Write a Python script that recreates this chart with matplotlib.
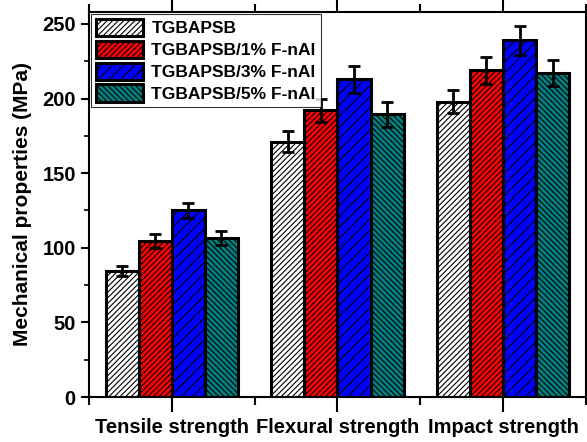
import numpy as np
import matplotlib.pyplot as plt
from matplotlib.ticker import MultipleLocator

plt.rcParams['font.family'] = ['Liberation Sans', 'DejaVu Sans']
plt.rcParams['font.weight'] = 'bold'
plt.rcParams['hatch.linewidth'] = 0.8

categories = ["Tensile strength", "Flexural strength", "Impact strength"]
samples = ["TGBAPSB", "TGBAPSB/1% F-nAl", "TGBAPSB/3% F-nAl", "TGBAPSB/5% F-nAl"]

neat = [84.5, 171, 198]
nal_1 = [104.5, 192, 219]
nal_3 = [125, 213, 239]
nal_5 = [106.5, 189.5, 217]

err_neat = [3.5, 7, 8]
err_1 = [4.5, 7.5, 9]
err_3 = [5, 9, 9.5]
err_5 = [4.5, 8.5, 8.5]

values = [neat, nal_1, nal_3, nal_5]
errors = [err_neat, err_1, err_3, err_5]
colors = ["white", "#ff0000", "#0000ff", "#008080"]
hatches = ["//////", "//////", "///", "\\\\\\\\\\\\"]

fig = plt.figure(figsize=(5.87, 4.42), dpi=100)
ax = fig.add_axes([0.1516, 0.1018, 0.8464, 0.8711])

x = np.arange(1, len(categories) + 1)
w = 0.2
for i in range(len(samples)):
    pos = x + (i - 1.5) * w
    ax.bar(pos, values[i], w, color=colors[i], edgecolor="black",
           linewidth=2.2, hatch=hatches[i], label=samples[i], zorder=2)
    ax.errorbar(pos, values[i], yerr=errors[i], fmt="none", ecolor="black",
                elinewidth=2, capsize=4.5, capthick=2, zorder=3)

ax.set_xlim(0.5, 3.5)
ax.set_ylim(0, 258)
ax.set_xticks(x)
ax.set_xticklabels(categories, fontsize=14.5, fontweight="bold")
ax.set_xticks([0.5, 1.5, 2.5, 3.5], minor=True)
ax.yaxis.set_major_locator(MultipleLocator(50))
ax.yaxis.set_minor_locator(MultipleLocator(25))
ax.set_ylabel("Mechanical properties (MPa)", fontsize=15, fontweight="bold",
              labelpad=7)

ax.tick_params(axis="x", which="major", length=11, width=1.5, direction="out",
               top=True, labelsize=14.5, pad=4)
ax.tick_params(axis="x", which="minor", length=6, width=1.5, direction="out", top=True)
ax.tick_params(axis="y", which="major", length=6, width=1.5, labelsize=14.5)
ax.tick_params(axis="y", which="minor", length=3.5, width=1.2)
for lbl in ax.get_yticklabels():
    lbl.set_fontweight("bold")
for s in ax.spines.values():
    s.set_linewidth(1.5)

leg = ax.legend(loc="upper left", bbox_to_anchor=(0.0, 1.0), fontsize=12.5,
                frameon=True, fancybox=False, edgecolor="black",
                handlelength=2.7, handleheight=1.15, labelspacing=0.25,
                borderpad=0.3, handletextpad=0.5, borderaxespad=0.1)
leg.get_frame().set_linewidth(0.8)
for t in leg.get_texts():
    t.set_fontweight("bold")

fig.savefig("out.png", dpi=100)
